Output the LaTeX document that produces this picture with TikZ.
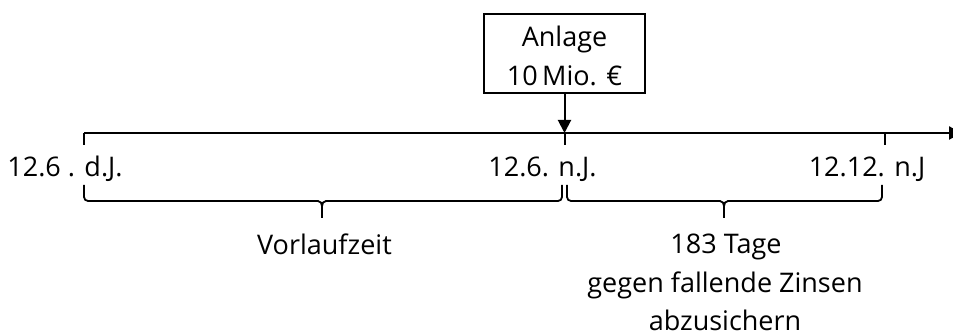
\documentclass[tikz,border=0pt]{standalone}
\usepackage{fontspec}
\setmainfont{Open Sans}
\usetikzlibrary{arrows.meta,calc}
\begin{document}
\begin{tikzpicture}[x=1pt,y=-1pt,
  ln/.style={line width=2pt,black},
  lbl/.style={anchor=base,inner sep=0pt,font=\fontsize{27}{39}\selectfont},
  brc/.style={line width=1.8pt,black}]
\useasboundingbox (0,0) rectangle (953,336);
% box
\node[draw,line width=2pt,minimum width=161pt,minimum height=79pt,inner sep=0pt] (box) at (564.5,53.5) {};
\node[lbl] (anl) at (564.5,47) {Anlage};
\node[lbl] (mio) at (564.5,86) {10\,Mio. €};
% axis
\coordinate (a0) at (84,133);
\coordinate (a1) at (564.5,133);
\coordinate (a2) at (885,133);
\coordinate (aend) at (962,133);
\draw[ln,-{Triangle[length=13pt,width=13pt]}] (a0) -- (aend);
\draw[ln,-{Triangle[length=13pt,width=13pt]}] (box.south) -- (a1);
% ticks
\draw[ln] (a0) -- ++(0,12);
\draw[ln] (a1) -- ++(0,12);
\draw[ln] (a2) -- ++(0,12);
% labels
\node[lbl] (l0) at (65,177) {12.6 . d.J.};
\node[lbl] (l1) at (542.5,177) {12.6. n.J.};
\node[lbl] (l2) at (867,177) {12.12. n.J};
% braces
\coordinate (b0) at (84,185);
\coordinate (b1) at (562,185);
\coordinate (b2) at (567,185);
\coordinate (b3) at (882,185);
\coordinate (t0) at (322,218);
\coordinate (t1) at (724,218);
\draw[brc] (b0) -- ++(0,12) to[out=-90,in=180] ++(4,4) -- ($(t0)+(-4,-17)$) to[out=0,in=90] ($(t0)+(0,-12)$) -- (t0);
\draw[brc] ($(t0)+(0,-12)$) to[out=90,in=180] ($(t0)+(4,-17)$) -- ($(b1)+(-4,16)$) to[out=0,in=-90] ($(b1)+(0,12)$) -- (b1);
\draw[brc] (b2) -- ++(0,12) to[out=-90,in=180] ++(4,4) -- ($(t1)+(-4,-17)$) to[out=0,in=90] ($(t1)+(0,-12)$) -- (t1);
\draw[brc] ($(t1)+(0,-12)$) to[out=90,in=180] ($(t1)+(4,-17)$) -- ($(b3)+(-4,16)$) to[out=0,in=-90] ($(b3)+(0,12)$) -- (b3);
% bottom texts
\node[lbl] (vor) at (324.5,255) {Vorlaufzeit};
\node[lbl] (tg1) at (726,254) {183 Tage};
\node[lbl] (tg2) at (725,293) {gegen fallende Zinsen};
\node[lbl] (tg3) at (725,331) {abzusichern};
\end{tikzpicture}
\end{document}
